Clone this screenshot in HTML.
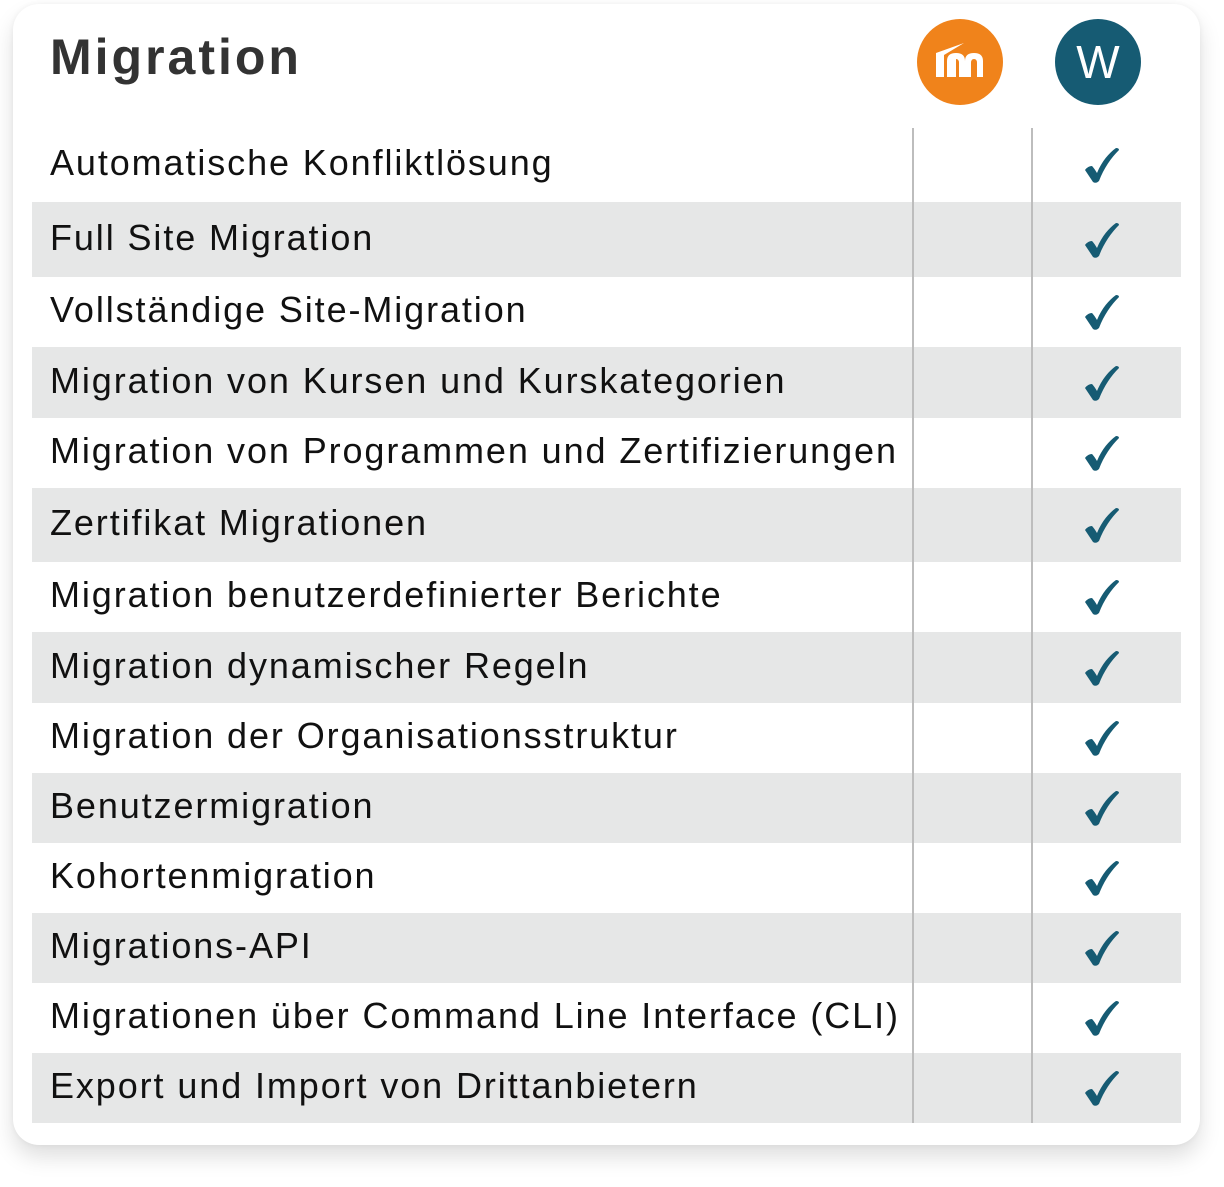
<!DOCTYPE html>
<html><head><style>
body{margin:0;width:1224px;height:1187px;background:#fff;position:relative;font-family:"Liberation Sans",sans-serif;overflow:hidden}
.card{position:absolute;left:13px;top:4px;width:1187px;height:1141px;background:#fff;border-radius:26px;box-shadow:0 12px 22px rgba(0,0,0,0.13),0 0 6px rgba(0,0,0,0.05)}
.title{position:absolute;left:50px;top:28px;font-size:50px;font-weight:bold;color:#333;letter-spacing:3px}
.row{position:absolute;left:32px;width:1149px}
.row.s{background:#e6e7e7}
.row span{position:absolute;left:18px;font-size:36px;color:#111;white-space:nowrap;top:50%;transform:translateY(-55%);letter-spacing:1.9px}
.ck{position:absolute;left:1051px;top:50%;transform:translateY(-50%)}
.vl{position:absolute;top:128px;height:995px;width:2px;background:#bdbdbd}
.ic{position:absolute;width:86px;height:86px;border-radius:50%;top:19px}
</style></head><body>
<div class="card"></div>
<div class="title">Migration</div>
<div class="ic" style="left:917px;background:#f0831b">
<svg width="86" height="86" viewBox="0 0 86 86"><path d="M19 58V34l28-10-20 12v22z M33 40h6v18h-6z" fill="#fff"/><path d="M30 58V42q0-8 9-8t9 8v16h-6V44q0-4-3-4t-3 4v14z M48 42q0-8 9-8t9 8v16h-6V44q0-4-3-4t-3 4v14h-6z" fill="#fff"/></svg></div>
<div class="ic" style="left:1055px;background:#165b73;color:#fff;font-size:46px;text-align:center;line-height:86px">W</div>
<div id="rows"></div>
<div class="vl" style="left:912px"></div>
<div class="vl" style="left:1031px"></div>
<script>
var b=[128,202,277,347,418,488,562,632,703,773,843,913,983,1053,1123];
var t=["Automatische Konfliktlösung","Full Site Migration","Vollständige Site-Migration","Migration von Kursen und Kurskategorien","Migration von Programmen und Zertifizierungen","Zertifikat Migrationen","Migration benutzerdefinierter Berichte","Migration dynamischer Regeln","Migration der Organisationsstruktur","Benutzermigration","Kohortenmigration","Migrations-API","Migrationen über Command Line Interface (CLI)","Export und Import von Drittanbietern"];
var h="";
for(var i=0;i<14;i++){h+='<div class="row'+(i%2?' s':'')+'" style="top:'+b[i]+'px;height:'+(b[i+1]-b[i])+'px"><span>'+t[i]+'</span><svg class="ck" width="38" height="40" viewBox="0 0 38 40"><path d="M2 25q3-4 7-4q2 2 5 7C19 16 26 8 33 3q3 0 3 2C28 13 21 23 16 36q-3 3-6 1z" fill="#165b73"/></svg></div>';}
document.getElementById("rows").innerHTML=h;
</script>
</body></html>
